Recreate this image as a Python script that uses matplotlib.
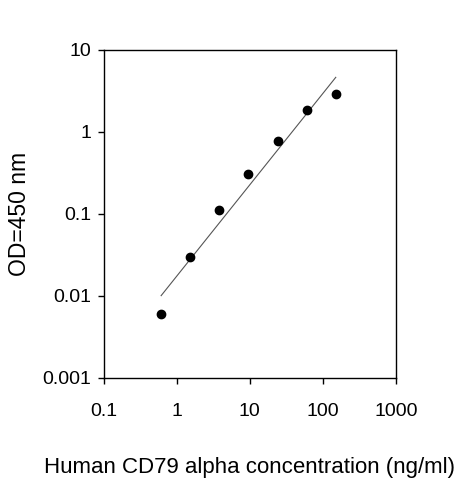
import matplotlib
matplotlib.use("Agg")
import matplotlib.pyplot as plt
from matplotlib.ticker import FixedLocator, FixedFormatter, NullLocator

conc = [0.614, 1.536, 3.84, 9.6, 24, 60, 150]
od = [0.006, 0.0296, 0.113, 0.305, 0.77, 1.85, 2.9]
fit_x = [0.614, 150]
fit_y = [0.0101, 4.64]
xticks = [0.1, 1, 10, 100, 1000]
xticklabels = ["0.1", "1", "10", "100", "1000"]
yticks = [0.001, 0.01, 0.1, 1, 10]
yticklabels = ["0.001", "0.01", "0.1", "1", "10"]

plt.rcParams['font.family'] = ['Liberation Sans', 'DejaVu Sans']

fig = plt.figure(figsize=(4.63, 4.80), dpi=100)
ax = fig.add_axes([103.5/463, 1-378/480, (396-103.5)/463, (378-50)/480])
ax.set_xscale('log')
ax.set_yscale('log')
ax.plot(fit_x, fit_y, color='#555555', lw=0.8)
ax.plot(conc, od, 'o', color='black', markersize=6)
ax.set_xlim(0.1, 1000)
ax.set_ylim(0.001, 10)
ax.xaxis.set_major_locator(FixedLocator(xticks))
ax.xaxis.set_major_formatter(FixedFormatter(xticklabels))
ax.yaxis.set_major_locator(FixedLocator(yticks))
ax.yaxis.set_major_formatter(FixedFormatter(yticklabels))
ax.xaxis.set_minor_locator(NullLocator())
ax.yaxis.set_minor_locator(NullLocator())
for s in ax.spines.values():
    s.set_linewidth(1.0)
    s.set_color('black')
ax.tick_params(direction='out', length=4, width=1, labelsize=14, pad=5)
ax.tick_params(axis='x', pad=14)
ax.set_xlabel("Human CD79 alpha concentration (ng/ml)", fontsize=16, labelpad=27)
ax.set_ylabel("OD=450 nm", fontsize=16.5, labelpad=8)
fig.savefig("out.png", dpi=100)
